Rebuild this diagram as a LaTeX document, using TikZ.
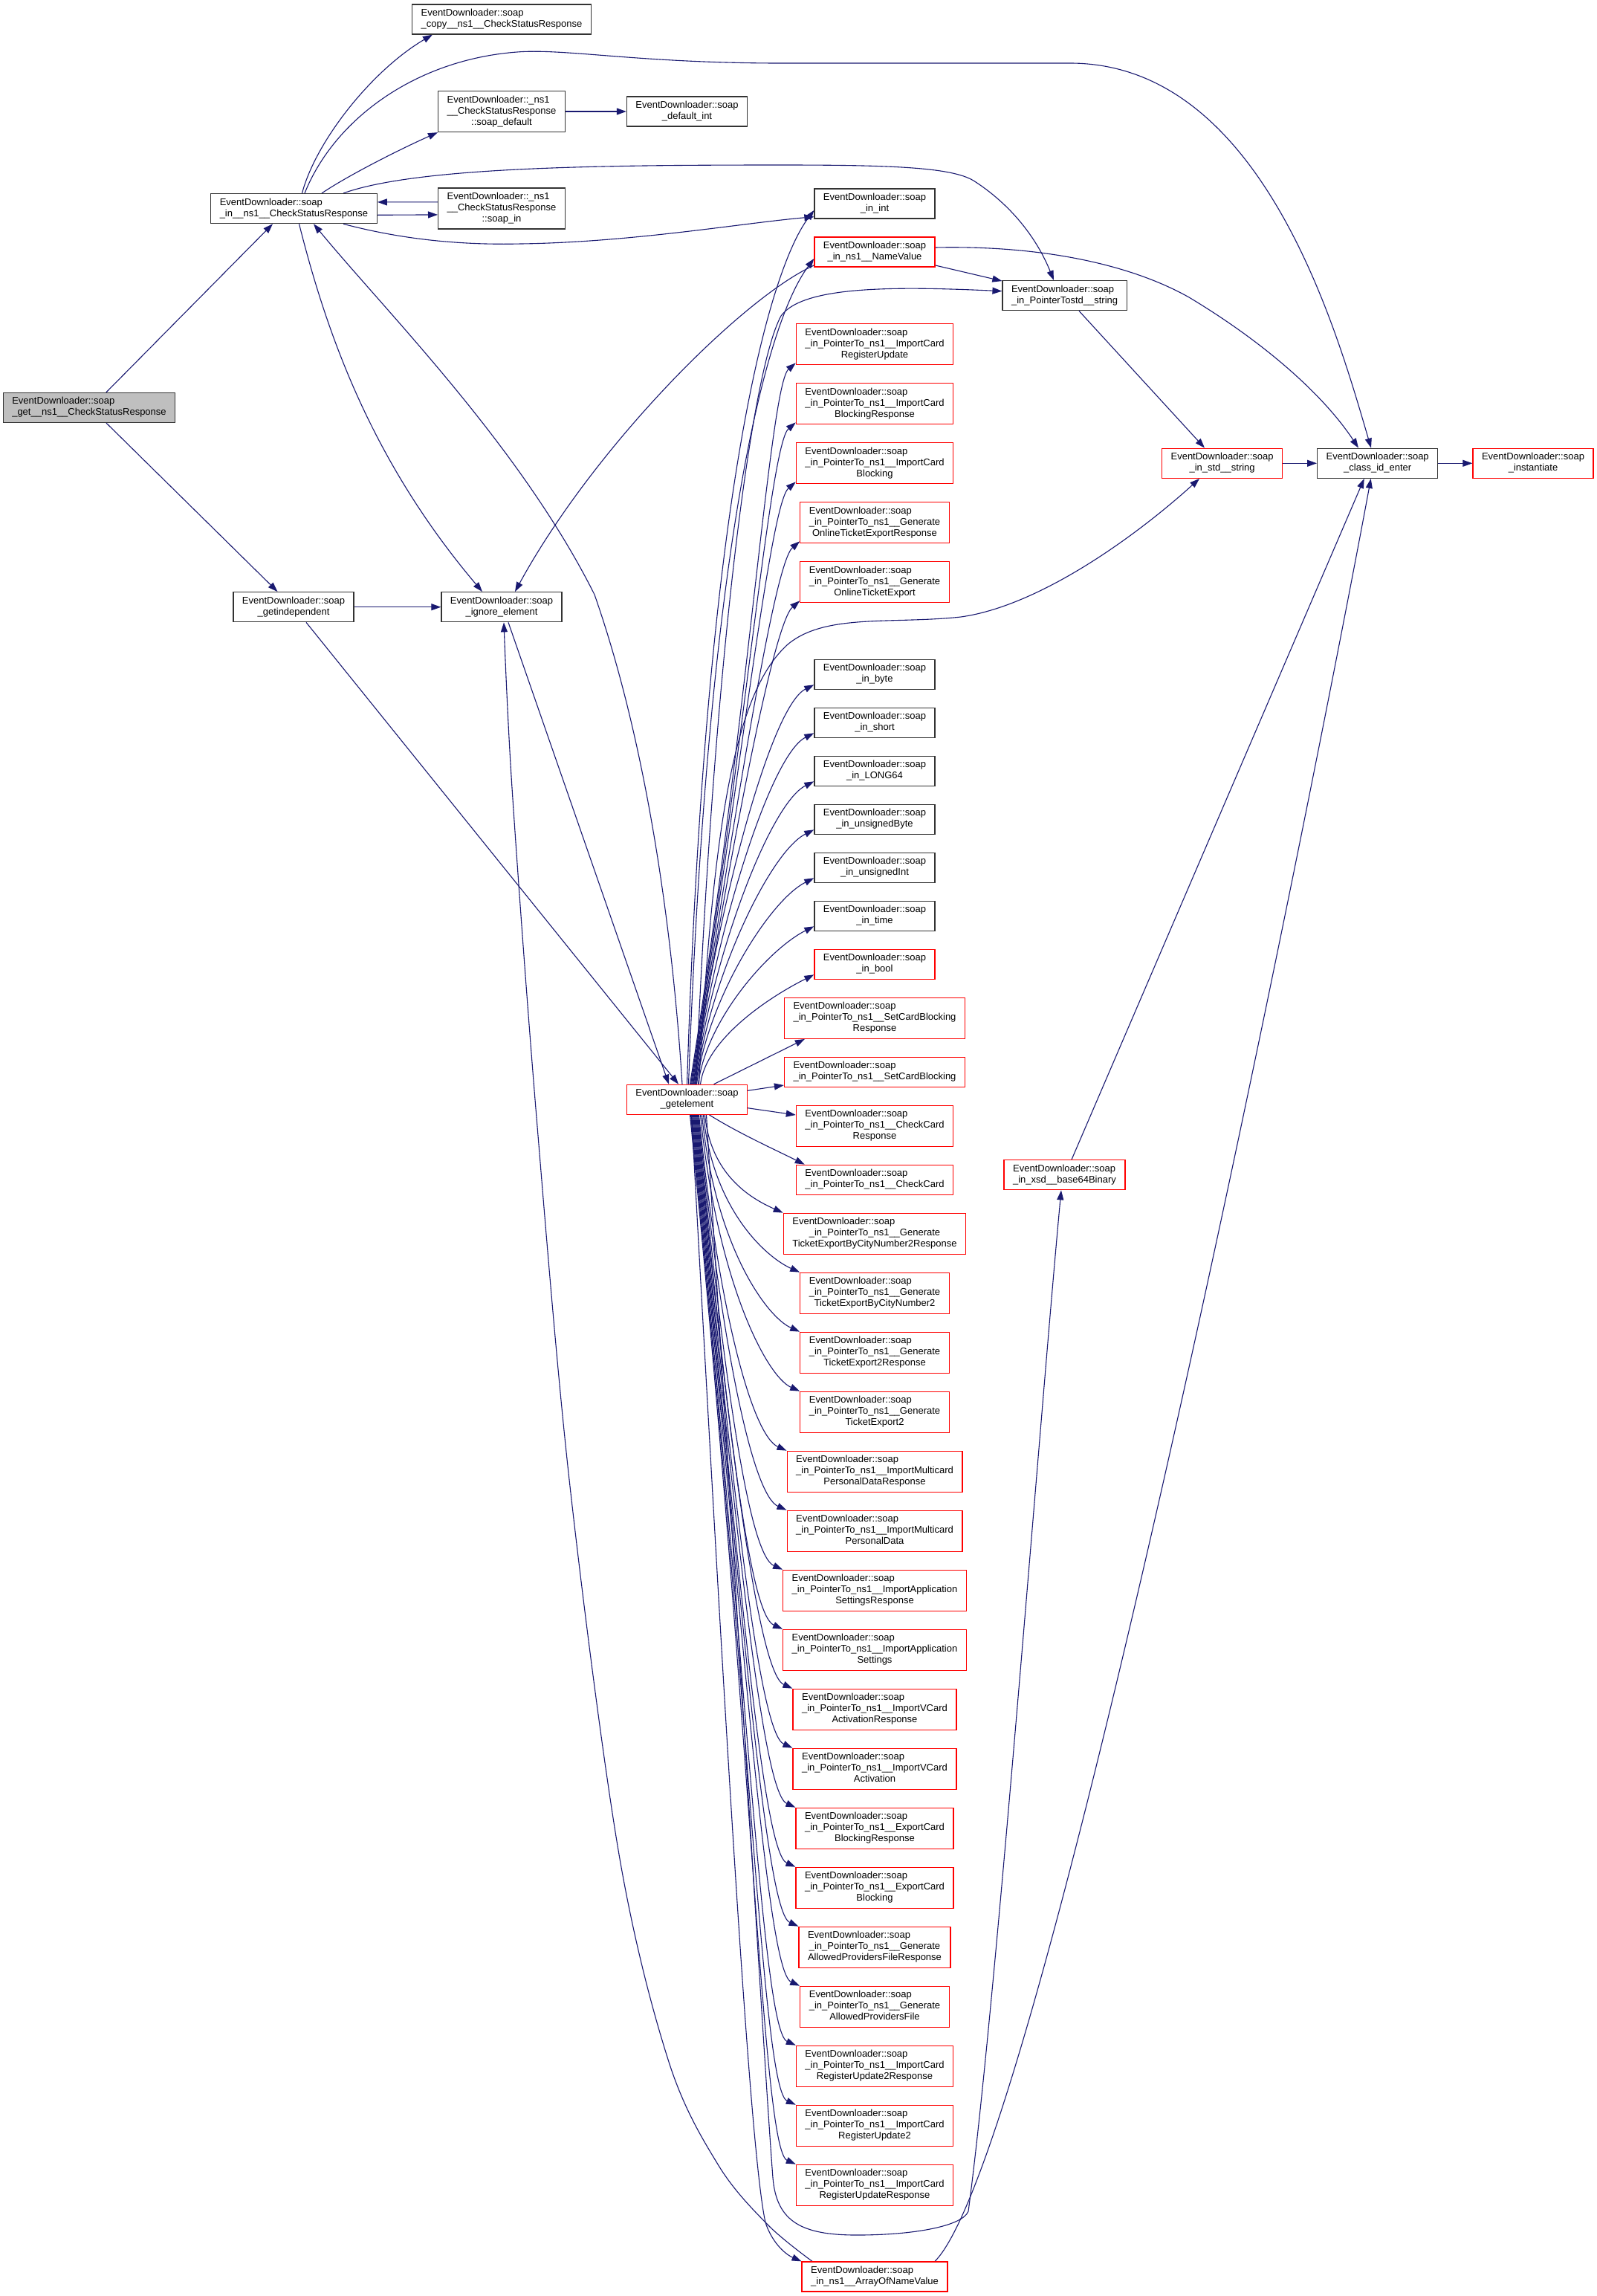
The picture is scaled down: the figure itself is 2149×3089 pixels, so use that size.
\documentclass[tikz,border=0pt]{standalone}
\usepackage{fontspec}
\setmainfont{Liberation Sans}
\usetikzlibrary{arrows.meta,calc}
\definecolor{navy}{HTML}{191970}
\definecolor{boxred}{HTML}{FF0000}
\definecolor{boxgray}{HTML}{BFBFBF}
\pgfdeclarelayer{background}
\pgfsetlayers{background,main}
\newcommand\lb[2]{\begin{tabular}{@{}c@{}}\multicolumn{1}{@{}l@{}}{#1}\\#2\end{tabular}}
\newcommand\eds{EventDownloader::soap}
\begin{document}
\begin{tikzpicture}[x=1pt,y=-1pt,
  box/.style={draw, line width=1.3pt, inner xsep=12pt, inner ysep=0pt, minimum height=40pt,
    font=\fontsize{13}{15}\selectfont, fill=white},
  bk/.style={box, draw=black!80},
  rd/.style={box, draw=boxred},
  b3/.style={minimum height=55pt},
  edge/.style={draw=navy, line width=1.1pt, -{Triangle[length=13pt,width=9pt]}}]
\useasboundingbox (0,0) rectangle (2149,3089);
% left part
\node[bk, fill=boxgray] (get) at (120,548.4) {\lb{\eds}{\_get\_\_ns1\_\_CheckStatusResponse}};
\node[bk] (csr) at (395.5,280.6) {\lb{\eds}{\_in\_\_ns1\_\_CheckStatusResponse}};
\node[bk] (copy) at (675,26) {\lb{\eds}{\_copy\_\_ns1\_\_CheckStatusResponse}};
\node[bk,b3] (sdef) at (675,150) {\lb{EventDownloader::\_ns1}{\_\_CheckStatusResponse\\::soap\_default}};
\node[bk] (dint) at (924.5,150) {\lb{\eds}{\_default\_int}};
\node[bk,b3] (sin) at (675,280.4) {\lb{EventDownloader::\_ns1}{\_\_CheckStatusResponse\\::soap\_in}};
\node[bk] (gi) at (395,816.7) {\lb{\eds}{\_getindependent}};
\node[bk] (ie) at (675,816.7) {\lb{\eds}{\_ignore\_element}};
\node[rd] (ge) at (924.5,1479.3) {\lb{\eds}{\_getelement}};
% right part
\node[bk] (pts) at (1432.6,397.7) {\lb{\eds}{\_in\_PointerTostd\_\_string}};
\node[rd] (iss) at (1644.6,623.3) {\lb{\eds}{\_in\_std\_\_string}};
\node[bk] (cie) at (1853.7,623.3) {\lb{\eds}{\_class\_id\_enter}};
\node[rd] (inst) at (2063,623.3) {\lb{\eds}{\_instantiate}};
\node[rd] (b64) at (1432.5,1580.7) {\lb{\eds}{\_in\_xsd\_\_base64Binary}};
% column
\node[bk] (int) at (1177,274) {\lb{\eds}{\_in\_int}};
\node[rd] (nv) at (1177,339) {\lb{\eds}{\_in\_ns1\_\_NameValue}};
\node[rd,b3] (ru) at (1177,463.2) {\lb{\eds}{\_in\_PointerTo\_ns1\_\_ImportCard\\RegisterUpdate}};
\node[rd,b3] (rubr) at (1177,543.2) {\lb{\eds}{\_in\_PointerTo\_ns1\_\_ImportCard\\BlockingResponse}};
\node[rd,b3] (rub) at (1177,623.2) {\lb{\eds}{\_in\_PointerTo\_ns1\_\_ImportCard\\Blocking}};
\node[rd,b3] (oter) at (1177,703.2) {\lb{\eds}{\_in\_PointerTo\_ns1\_\_Generate\\OnlineTicketExportResponse}};
\node[rd,b3] (ote) at (1177,783.2) {\lb{\eds}{\_in\_PointerTo\_ns1\_\_Generate\\OnlineTicketExport}};
\node[bk] (byte) at (1177,907.3) {\lb{\eds}{\_in\_byte}};
\node[bk] (short) at (1177,972.3) {\lb{\eds}{\_in\_short}};
\node[bk] (long) at (1177,1037.3) {\lb{\eds}{\_in\_LONG64}};
\node[bk] (ubyte) at (1177,1102.3) {\lb{\eds}{\_in\_unsignedByte}};
\node[bk] (uint) at (1177,1167.3) {\lb{\eds}{\_in\_unsignedInt}};
\node[bk] (time) at (1177,1232.3) {\lb{\eds}{\_in\_time}};
\node[rd] (bool) at (1177,1297.3) {\lb{\eds}{\_in\_bool}};
\node[rd,b3] (scbr) at (1177,1369.8) {\lb{\eds}{\_in\_PointerTo\_ns1\_\_SetCardBlocking\\Response}};
\node[rd] (scb) at (1177,1442.3) {\lb{\eds}{\_in\_PointerTo\_ns1\_\_SetCardBlocking}};
\node[rd,b3] (ccr) at (1177,1514.8) {\lb{\eds}{\_in\_PointerTo\_ns1\_\_CheckCard\\Response}};
\node[rd] (cc) at (1177,1587.3) {\lb{\eds}{\_in\_PointerTo\_ns1\_\_CheckCard}};
\node[rd,b3] (bcr) at (1177,1659.8) {\lb{\eds}{\_in\_PointerTo\_ns1\_\_Generate\\TicketExportByCityNumber2Response}};
\node[rd,b3] (bc) at (1177,1739.8) {\lb{\eds}{\_in\_PointerTo\_ns1\_\_Generate\\TicketExportByCityNumber2}};
\node[rd,b3] (te2r) at (1177,1819.8) {\lb{\eds}{\_in\_PointerTo\_ns1\_\_Generate\\TicketExport2Response}};
\node[rd,b3] (te2) at (1177,1899.8) {\lb{\eds}{\_in\_PointerTo\_ns1\_\_Generate\\TicketExport2}};
\node[rd,b3] (mpdr) at (1177,1979.8) {\lb{\eds}{\_in\_PointerTo\_ns1\_\_ImportMulticard\\PersonalDataResponse}};
\node[rd,b3] (mpd) at (1177,2059.8) {\lb{\eds}{\_in\_PointerTo\_ns1\_\_ImportMulticard\\PersonalData}};
\node[rd,b3] (asr) at (1177,2139.8) {\lb{\eds}{\_in\_PointerTo\_ns1\_\_ImportApplication\\SettingsResponse}};
\node[rd,b3] (as) at (1177,2219.8) {\lb{\eds}{\_in\_PointerTo\_ns1\_\_ImportApplication\\Settings}};
\node[rd,b3] (vcar) at (1177,2299.8) {\lb{\eds}{\_in\_PointerTo\_ns1\_\_ImportVCard\\ActivationResponse}};
\node[rd,b3] (vca) at (1177,2379.8) {\lb{\eds}{\_in\_PointerTo\_ns1\_\_ImportVCard\\Activation}};
\node[rd,b3] (ecbr) at (1177,2459.8) {\lb{\eds}{\_in\_PointerTo\_ns1\_\_ExportCard\\BlockingResponse}};
\node[rd,b3] (ecb) at (1177,2539.8) {\lb{\eds}{\_in\_PointerTo\_ns1\_\_ExportCard\\Blocking}};
\node[rd,b3] (apfr) at (1177,2619.8) {\lb{\eds}{\_in\_PointerTo\_ns1\_\_Generate\\AllowedProvidersFileResponse}};
\node[rd,b3] (apf) at (1177,2699.8) {\lb{\eds}{\_in\_PointerTo\_ns1\_\_Generate\\AllowedProvidersFile}};
\node[rd,b3] (ru2r) at (1177,2779.8) {\lb{\eds}{\_in\_PointerTo\_ns1\_\_ImportCard\\RegisterUpdate2Response}};
\node[rd,b3] (ru2) at (1177,2859.8) {\lb{\eds}{\_in\_PointerTo\_ns1\_\_ImportCard\\RegisterUpdate2}};
\node[rd,b3] (rur) at (1177,2939.8) {\lb{\eds}{\_in\_PointerTo\_ns1\_\_ImportCard\\RegisterUpdateResponse}};
\node[rd] (anv) at (1177,3063) {\lb{\eds}{\_in\_ns1\_\_ArrayOfNameValue}};
\coordinate (anvA) at ($(anv.north)+(-84,0)$);
\coordinate (ieB) at ($(ie.south)+(3,0)$);

\begin{pgfonlayer}{background}
% left part edges
\draw[edge] ($(get.north)+(23,0)$) -- ($(csr.south)+(-28.5,0)$);
\draw[edge] ($(get.south)+(23,0)$) -- ($(gi.north)+(-21.5,0)$);
\draw[edge] ($(csr.north)+(11,0)$) .. controls (425,190) and (500,95) .. ($(copy.south west)+(28,0)$);
\draw[edge] ($(csr.north)+(14.5,0)$) .. controls (450,160) and (560,80) .. (696,70)
   .. controls (760,65) and (860,85) .. (1050,85) -- (1440,85)
   .. controls (1700,85) and (1800,450) .. ($(cie.north)+(-8.7,0)$);
\draw[edge] ($(csr.north)+(37.5,0)$) .. controls (470,235) and (540,200) .. (sdef.south west);
\draw[edge] (sdef) -- (dint);
\draw[edge] ($(csr.north)+(66.5,0)$) .. controls (560,225) and (800,222) .. (1050,222)
   .. controls (1200,222) and (1280,225) .. (1310,243)
   .. controls (1360,275) and (1395,320) .. ($(pts.north)+(-14.6,0)$);
\draw[edge] ($(sin.west)+(0,-8.5)$) -- ($(csr.east)+(0,-8.7)$);
\draw[edge] ($(csr.east)+(0,8.7)$) -- ($(sin.west)+(0,8.5)$);
\draw[edge] ($(csr.south)+(66.5,0)$) .. controls (540,322) and (620,330) .. (701,328)
   .. controls (850,326) and (1000,300) .. ($(int.west)+(0,17.7)$);
\draw[edge] ($(csr.south)+(7,0)$) .. controls (440,450) and (500,620) .. ($(ie.north)+(-26,0)$);
\draw[edge] ($(ge.north)+(-6.5,0)$) .. controls (905,1250) and (870,1000) .. (800,800)
   .. controls (700,600) and (520,420) .. ($(csr.south)+(26.5,0)$);
\draw[edge] (gi) -- (ie);
\draw[edge] ($(gi.south)+(17,0)$) -- ($(ge.north)+(-11.5,0)$);
\draw[edge] ($(ie.south)+(9,0)$) -- ($(ge.north)+(-24.5,0)$);
\draw[edge] plot[smooth, tension=0.55] coordinates {(anvA) (1033,2993) (966.7,2913) (900,2774) (833,2495) (766.7,1997) (721.7,1500) (689,1060) (ieB)};
\draw[edge] ($(nv.west)+(0,18)$) .. controls (1000,400) and (800,600) .. ($(ie.north)+(18,0)$);
% right part edges
\draw[edge] ($(nv.east)+(0,18)$) -- ($(pts.north west)+(0,1)$);
\draw[edge] ($(nv.east)+(0,-6)$) .. controls (1400,330) and (1520,355) .. (1600,400)
   .. controls (1700,460) and (1780,530) .. ($(cie.north)+(-25.7,0)$);
\draw[edge] ($(ge.north)+(12,0)$) .. controls (960,900) and (1010,500) .. (1051,425)
   .. controls (1080,385) and (1200,385) .. ($(pts.west)+(0,-6)$);
\draw[edge] ($(pts.south)+(19.4,0)$) -- ($(iss.north)+(-23.6,0)$);
\draw[edge] (iss) -- (cie);
\draw[edge] (cie) -- (inst);
\draw[edge] ($(ge.north)+(16,0)$) .. controls (960,1100) and (990,930) .. (1060,867)
   .. controls (1110,825) and (1200,840) .. (1293,830)
   .. controls (1400,815) and (1530,720) .. ($(iss.south)+(-30.6,0)$);
\draw[edge] ($(b64.north)+(9.5,0)$) -- ($(cie.south)+(-18,0)$);
\draw[edge] ($(anv.north)+(81,0)$) .. controls (1400,2900) and (1760,1100) .. ($(cie.south)+(-9,0)$);
\draw[edge] ($(ge.south)+(26,0)$) .. controls (1000,2300) and (1030,2800) .. (1040,2930)
   .. controls (1045,2990) and (1080,3007) .. (1153,3007)
   .. controls (1230,3007) and (1295,2995) .. (1303,2975)
   .. controls (1340,2700) and (1400,1900) .. ($(b64.south)+(-4.5,0)$);
\draw[edge] ($(ge.south)+(6,0)$) .. controls (980,2400) and (1010,2900) .. (1030,2990)
   .. controls (1038,3015) and (1055,3032) .. (anv.north west);
% fan above
\draw[edge] ($(ge.north)+(0,0)$) .. controls +(25,-800) and +(-60,80) .. ($(int.west)+(0,9)$);
\draw[edge] ($(ge.north)+(2,0)$) .. controls +(28,-760) and +(-60,80) .. ($(nv.west)+(0,9)$);
\foreach \nm/\dx/\h in {ru/4/972, rubr/5/891, rub/6/812, oter/7/731, ote/8/652}
  \draw[edge] ($(ge.north)+(\dx,0)$) .. controls +({0.08*\h},{-0.5*\h}) and +(-35,30) .. ($(\nm.south west)+(0,-3)$);
\foreach \nm/\dx/\h in {byte/9/543, short/10/478, long/11/413, ubyte/12/348, uint/13/283, time/15/218, bool/18/153}
  \draw[edge] ($(ge.north)+(\dx,0)$) .. controls +({0.05*\h},{-0.4*\h}) and +(-60,30) .. ($(\nm.west)+(0,14)$);
\draw[edge] ($(ge.north)+(36,0)$) -- ($(scbr.south west)+(28,0)$);
\draw[edge] ($(ge.east)+(0,-12)$) -- ($(scb.west)+(0,17.7)$);
\draw[edge] ($(ge.east)+(0,11.4)$) -- ($(ccr.west)+(0,-14.8)$);
\draw[edge] ($(ge.south)+(30,0)$) .. controls +(40,25) and +(-40,-20) .. ($(cc.north west)+(12,0)$);
% fan below
\foreach \nm/\dx/\h in {bcr/24/133, bc/22/213, te2r/20/293, te2/18/373, mpdr/16/453, mpd/15/533, asr/14/613, as/13/693, vcar/12/773, vca/11/853, ecbr/10/933, ecb/9/1013, apfr/8/1093, apf/7/1173, ru2r/6/1253, ru2/5/1333, rur/4/1413}
  \draw[edge] ($(ge.south)+(\dx,0)$) .. controls +({0.06*\h},{0.6*\h}) and +(-45,{-min(20,0.2*\h)}) .. (\nm.north west);
\end{pgfonlayer}
\end{tikzpicture}
\end{document}
